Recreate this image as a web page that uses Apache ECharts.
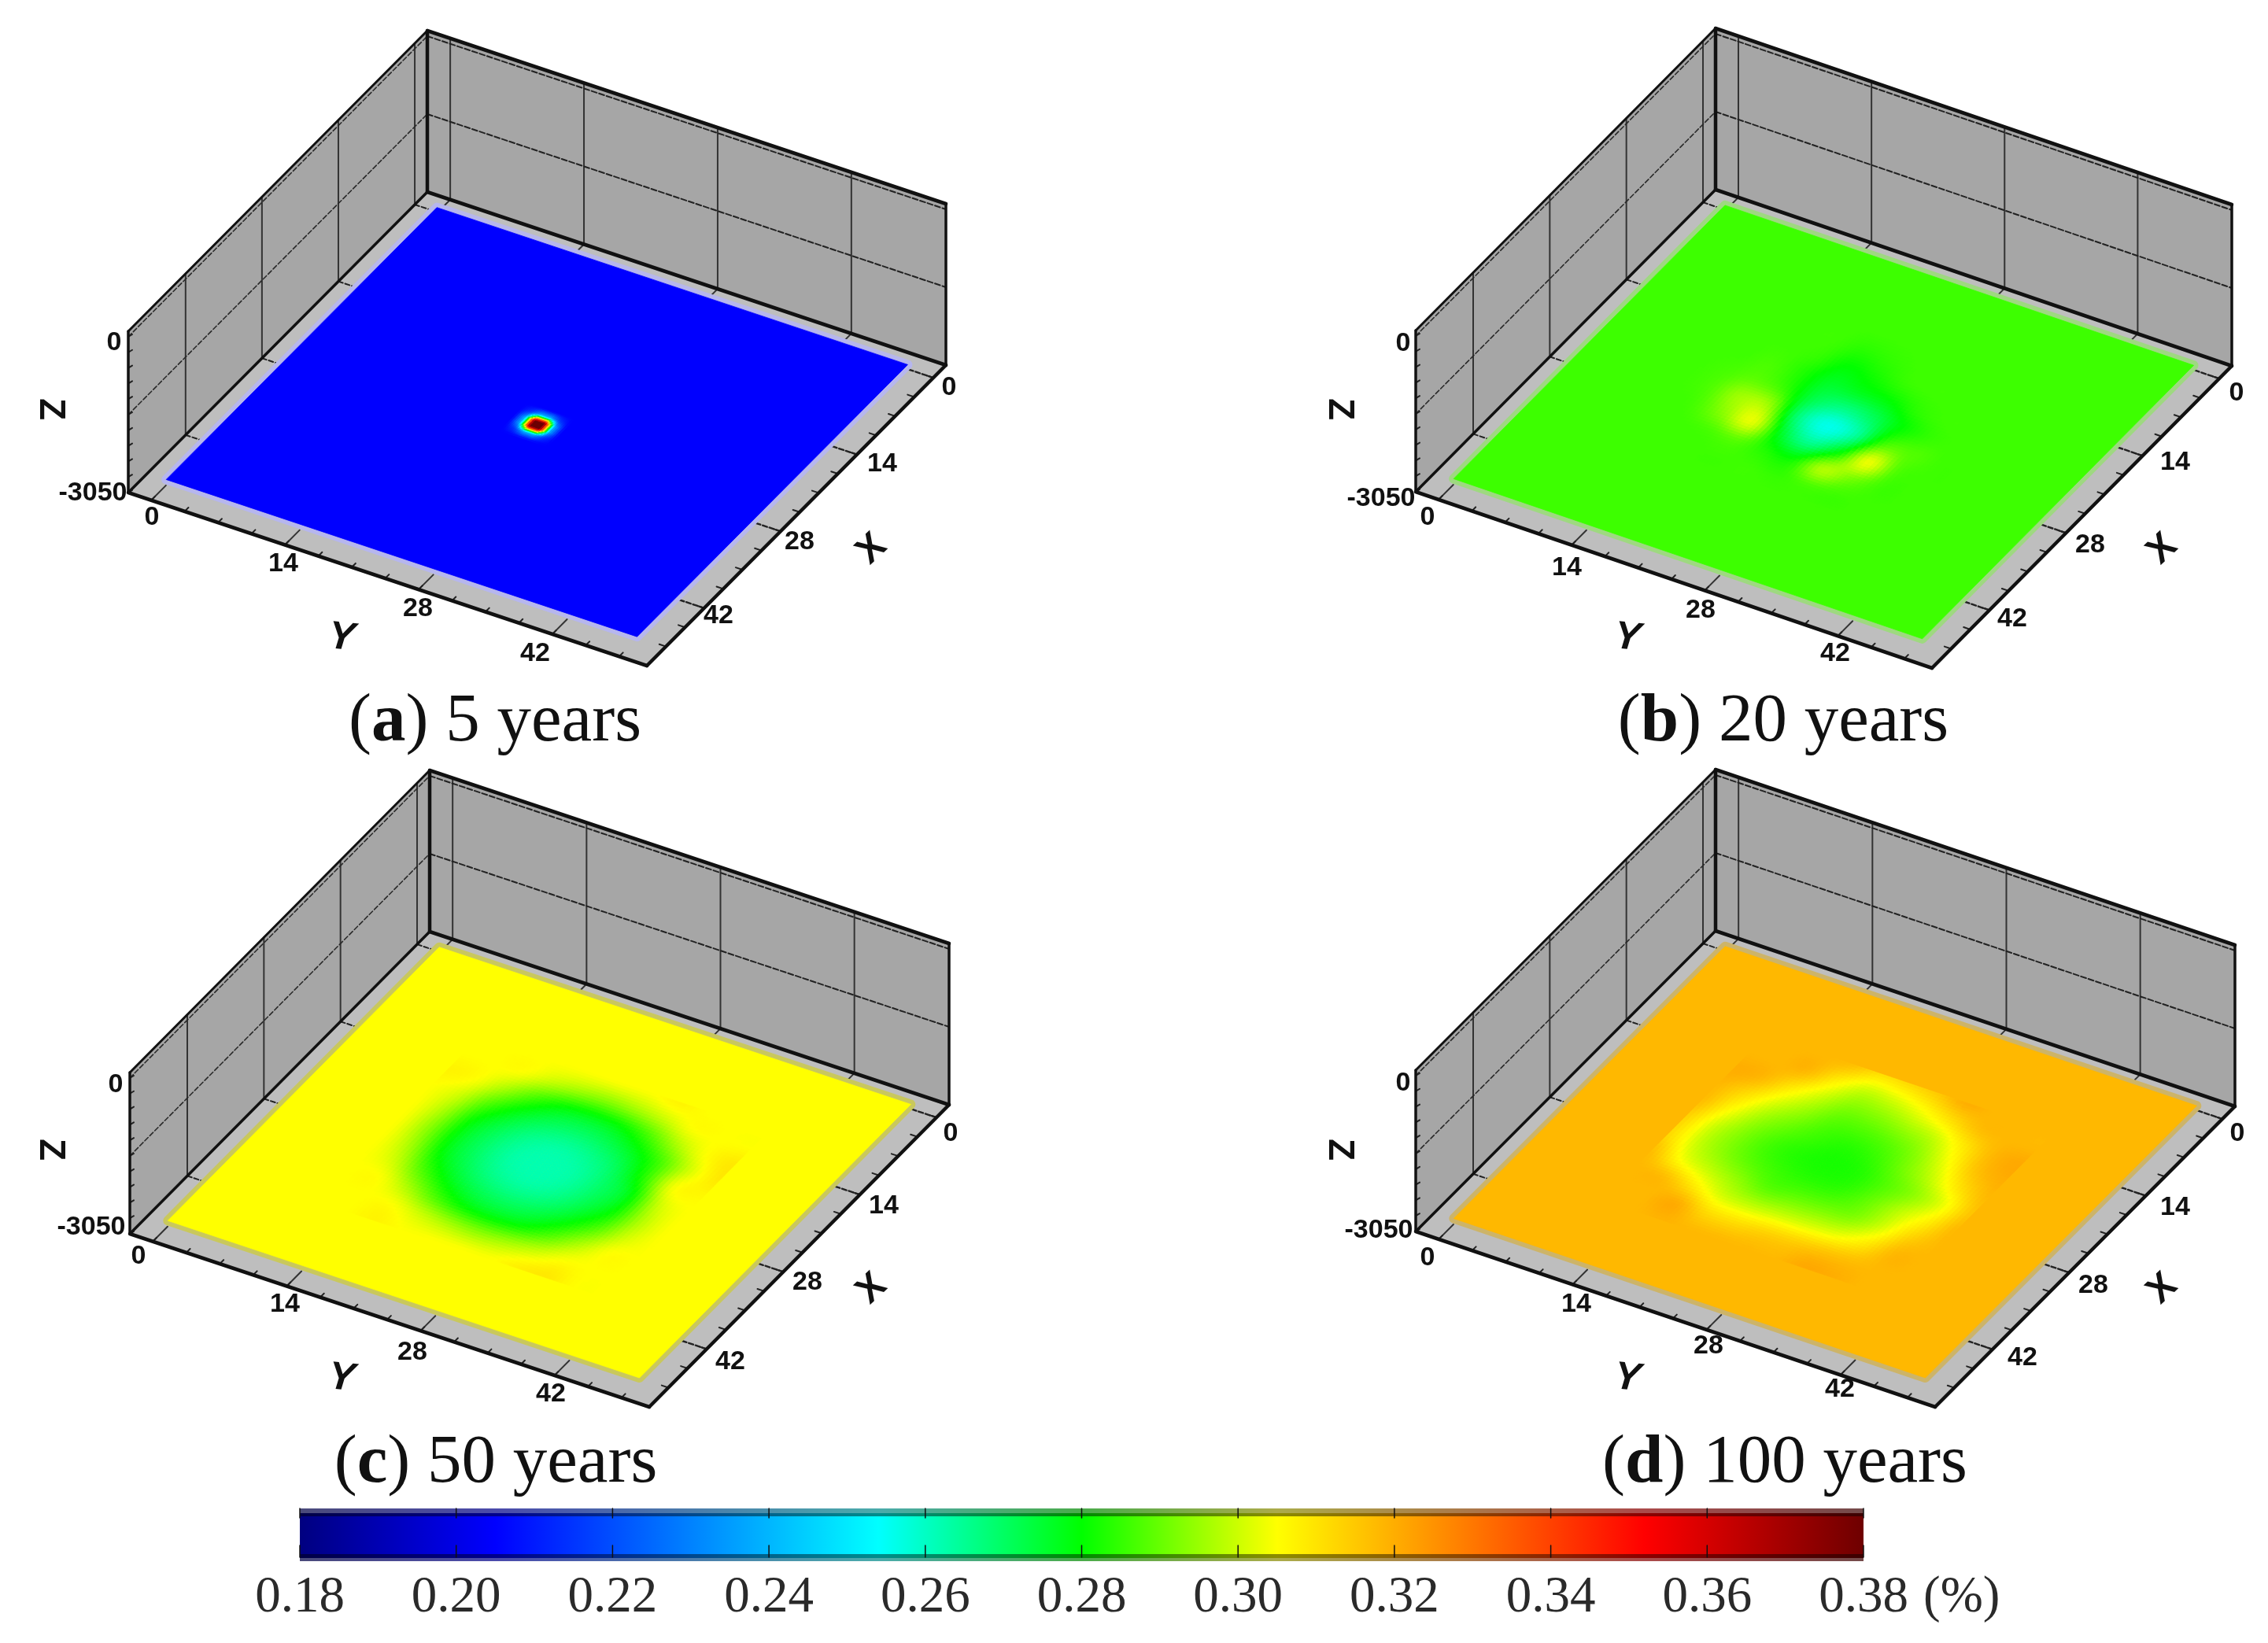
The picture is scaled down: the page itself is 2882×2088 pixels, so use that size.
<!DOCTYPE html>
<html><head><meta charset="utf-8">
<style>html,body{margin:0;padding:0;background:#fff}#c{width:2882px;height:2088px}</style>
<script src="https://cdn.jsdelivr.net/npm/echarts@6/dist/echarts.min.js"></script>
</head><body><div id="c"></div>
<script>
// ---------- data ----------
const xTicks=[0,14,28,42];
const yTicks=[0,14,28,42];
const zTicks=[0,-1525,-3050];
const zLabelled=[0,-3050];
const colorbarTicks=[0.18,0.20,0.22,0.24,0.26,0.28,0.30,0.32,0.34,0.36,0.38];
const colorStops=[[0.18,[0,0,128]],[0.205,[0,0,255]],[0.254,[0,255,255]],[0.28,[0,255,0]],[0.305,[255,255,0]],[0.352,[255,0,0]],[0.38,[110,0,0]]];
const captions=[['a',' 5 years'],['b',' 20 years'],['c',' 50 years'],['d',' 100 years']];

// porosity at a coarse set of nodes; everything outside the nodes sits at the panel's background value
const aBackground=0.205;
const aXNodes=[22.5,23.5,24.5,25.5,26.5,27.5];
const aYNodes=[22.2,23.2,24.2,25.2,26.2,27.2];
const aValues=[
[.205,.205,.205,.205,.205,.205],
[.205,.216,.240,.240,.216,.205],
[.205,.240,.380,.380,.240,.205],
[.205,.240,.380,.380,.240,.205],
[.205,.216,.240,.240,.216,.205],
[.205,.205,.205,.205,.205,.205]];

const centreNodes=[10,13,16,19,22,25,28,31,34,37,40];

const bBackground=0.286;
const bValues=[
[.286,.286,.286,.286,.286,.286,.286,.286,.286,.286,.286],
[.286,.286,.286,.286,.284,.285,.286,.286,.286,.286,.286],
[.286,.286,.286,.285,.280,.282,.285,.286,.286,.286,.286],
[.286,.286,.287,.283,.276,.277,.279,.284,.286,.286,.286],
[.286,.287,.289,.285,.272,.266,.270,.280,.285,.286,.286],
[.286,.288,.296,.295,.268,.256,.264,.287,.288,.286,.286],
[.286,.287,.294,.302,.276,.265,.279,.303,.288,.286,.286],
[.286,.286,.287,.289,.283,.281,.297,.292,.286,.286,.286],
[.286,.286,.286,.286,.286,.285,.287,.286,.286,.286,.286],
[.286,.286,.286,.286,.286,.286,.286,.286,.286,.286,.286],
[.286,.286,.286,.286,.286,.286,.286,.286,.286,.286,.286]];

const cBackground=0.305;
const cValues=[
[.305,.305,.305,.305,.305,.305,.305,.307,.305,.305,.305],
[.305,.305,.305,.300,.296,.294,.296,.300,.305,.305,.305],
[.307,.305,.297,.287,.280,.278,.280,.287,.297,.305,.309],
[.305,.300,.287,.277,.271,.269,.271,.277,.287,.301,.309],
[.305,.296,.280,.271,.265,.263,.265,.271,.284,.304,.306],
[.305,.294,.278,.269,.263,.262,.263,.269,.278,.299,.305],
[.305,.296,.280,.271,.265,.263,.265,.271,.280,.297,.305],
[.305,.300,.287,.277,.271,.269,.271,.277,.287,.300,.305],
[.305,.305,.297,.287,.280,.278,.280,.287,.297,.305,.305],
[.305,.305,.305,.300,.296,.294,.296,.300,.305,.305,.305],
[.305,.305,.307,.305,.305,.305,.305,.308,.309,.305,.305]];

const dBackground=0.318;
const dValues=[
[.318,.318,.318,.317,.311,.312,.315,.320,.318,.318,.318],
[.318,.318,.318,.308,.300,.301,.305,.311,.317,.318,.318],
[.320,.318,.309,.300,.293,.293,.296,.300,.309,.318,.321],
[.318,.311,.301,.294,.288,.287,.289,.294,.304,.316,.320],
[.317,.305,.295,.289,.285,.283,.285,.291,.299,.310,.318],
[.313,.300,.292,.286,.283,.282,.283,.288,.294,.303,.316],
[.312,.300,.293,.288,.285,.284,.285,.290,.298,.307,.318],
[.317,.305,.299,.294,.289,.290,.291,.293,.301,.313,.318],
[.318,.317,.309,.301,.299,.300,.301,.303,.309,.318,.318],
[.318,.318,.320,.312,.311,.313,.314,.316,.317,.318,.318],
[.318,.318,.319,.318,.318,.318,.318,.321,.320,.318,.318]];

// ---------- layout and style ----------
const xRange=[-2.3,52.5], yRange=[-2.4,51.9], zRange=[-3050,107];
const surfaceExtentX=[-0.2,49.4], surfaceExtentY=[-0.2,49.1], surfaceZ=-2990;
const tickFont='bold 34px "Liberation Sans"';
const panels=[
 {B:[543,244], XE:[-380,382],YE:[659,220],H:205,rim:'#b6b6ee',bg:aBackground,xn:aXNodes,yn:aYNodes,vals:aValues,linear:true,step:0.2,capX:629,capY:915,
  xLab:[[1206,493],[1121,590],[1016,689],[913,783]],yLab:[[193,658],[360,717],[531,774],[680,831]],zLab:[[145,436],[118,627]],zName:[64,520],yName:[434,811],xName:[1108,698]},
 {B:[2180,241],XE:[-381,384],YE:[656,224],H:205,rim:'#9ed980',bg:bBackground,xn:centreNodes,yn:centreNodes,vals:bValues,step:0.4,capX:2266,capY:915,
  xLab:[[2842,500],[2764,588],[2656,693],[2557,787]],yLab:[[1814,658],[1991,722],[2161,776],[2332,831]],zLab:[[1783,437],[1755,634]],zName:[1702,520],yName:[2068,811],xName:[2748,698]},
 {B:[546,1184],XE:[-381,384],YE:[660,220],H:205,rim:'#c9c85c',bg:cBackground,xn:centreNodes,yn:centreNodes,vals:cValues,step:0.4,capX:630,capY:1857,
  xLab:[[1208,1441],[1123,1533],[1026,1630],[928,1731]],yLab:[[176,1597],[362,1658],[524,1719],[700,1772]],zLab:[[147,1379],[116,1560]],zName:[64,1461],yName:[434,1752],xName:[1108,1638]},
 {B:[2180,1183],XE:[-381,382],YE:[660,223],H:205,rim:'#cdb468',bg:dBackground,xn:centreNodes,yn:centreNodes,vals:dValues,step:0.4,capX:2268,capY:1857,
  xLab:[[2843,1441],[2764,1535],[2660,1634],[2570,1726]],yLab:[[1814,1599],[2003,1658],[2171,1711],[2338,1766]],zLab:[[1783,1377],[1752,1564]],zName:[1702,1461],yName:[2068,1752],xName:[2748,1638]}
];
panels.forEach(p=>{
  const xs=[p.B[0],p.B[0]+p.XE[0],p.B[0]+p.YE[0],p.B[0]+p.XE[0]+p.YE[0]];
  const ys=[p.B[1],p.B[1]+p.XE[1],p.B[1]+p.YE[1],p.B[1]+p.XE[1]+p.YE[1]];
  p.grid={left:Math.min(...xs),top:Math.min(...ys),width:Math.max(...xs)-Math.min(...xs),height:Math.max(...ys)-Math.min(...ys),outerBoundsMode:'none'};
});

// ---------- colour scale and field shading ----------
function jet(v){
  if(v<=colorStops[0][0]) return 'rgb('+colorStops[0][1].join(',')+')';
  for(let i=1;i<colorStops.length;i++){
    if(v<=colorStops[i][0]){
      const a=colorStops[i-1],b=colorStops[i],t=(v-a[0])/(b[0]-a[0]);
      return 'rgb('+a[1].map((c,k)=>Math.round(c+(b[1][k]-c)*t)).join(',')+')';
    }
  }
  return 'rgb('+colorStops[colorStops.length-1][1].join(',')+')';
}
function cr(a,b,c,d,t){return 0.5*((2*b)+(c-a)*t+(2*a-5*b+4*c-d)*t*t+(3*b-a-3*c+d)*t*t*t);}
function shade(p,X,Y){
  const dx=p.xn[1]-p.xn[0],dy=p.yn[1]-p.yn[0];
  const fx=(X-p.xn[0])/dx,fy=(Y-p.yn[0])/dy;
  const i=Math.floor(fx),j=Math.floor(fy),t=fx-i,s=fy-j;
  const at=(r,c)=>(r<0||c<0||r>=p.vals.length||c>=p.vals[0].length)?p.bg:p.vals[r][c];
  if(p.linear){
    return (1-t)*((1-s)*at(i,j)+s*at(i,j+1))+t*((1-s)*at(i+1,j)+s*at(i+1,j+1));
  }
  const row=k=>cr(at(k,j-1),at(k,j),at(k,j+1),at(k,j+2),s);
  return cr(row(i-1),row(i),row(i+1),row(i+2),t);
}
function surfaceCells(p){
  const cells=[[surfaceExtentX[0],surfaceExtentY[0],surfaceExtentX[1],surfaceExtentY[1],p.bg]];
  const x0=p.xn[0],x1=p.xn[p.xn.length-1],y0=p.yn[0],y1=p.yn[p.yn.length-1];
  for(let X=x0;X<x1-1e-6;X+=p.step){
    for(let Y=y0;Y<y1-1e-6;Y+=p.step){
      const v=shade(p,X+p.step/2,Y+p.step/2);
      if(Math.abs(v-p.bg)>0.00015) cells.push([X,Y,X+p.step,Y+p.step,v]);
    }
  }
  return cells;
}
function projector(p,api){
  return function(X,Y,z){
    const c=api.coord([X,Y]);
    const u=(c[0]-p.grid.left)/p.grid.width,v=(c[1]-p.grid.top)/p.grid.height;
    const h=(z-zRange[0])/(zRange[1]-zRange[0])*p.H;
    return [p.B[0]+u*p.XE[0]+v*p.YE[0],p.B[1]+u*p.XE[1]+v*p.YE[1]-h];
  };
}
const line=(a,b,w,col,dash)=>({type:'line',shape:{x1:a[0],y1:a[1],x2:b[0],y2:b[1]},style:{stroke:col||'#111',lineWidth:w,lineDash:dash||null,lineCap:'round'}});
const poly=(pts,fill)=>({type:'polygon',shape:{points:pts},style:{fill}});
const label=(t,pos,font,rot)=>({type:'text',x:pos[0],y:pos[1],rotation:rot||0,style:{text:t,x:0,y:0,fill:'#111',font,align:'center',verticalAlign:'middle'}});

function frameItem(p,params,api){
  const P=projector(p,api),[x0,x1]=xRange,[y0,y1]=yRange,[zb,zt]=zRange,out=[];
  out.push(poly([P(x0,y0,zb),P(x1,y0,zb),P(x1,y0,zt),P(x0,y0,zt)],'#a6a6a6'));
  out.push(poly([P(x0,y0,zb),P(x0,y1,zb),P(x0,y1,zt),P(x0,y0,zt)],'#a6a6a6'));
  out.push(poly([P(x0,y0,zb),P(x1,y0,zb),P(x1,y1,zb),P(x0,y1,zb)],'#bebebe'));
  xTicks.forEach(t=>out.push(line(P(t,y0,zb),P(t,y0,zt),2,'#333')));
  yTicks.forEach(t=>out.push(line(P(x0,t,zb),P(x0,t,zt),2,'#333')));
  zTicks.slice(0,2).forEach(z=>{
    out.push(line(P(x1,y0,z),P(x0,y0,z),1.6,'#2a2a2a',[6,3]));
    out.push(line(P(x0,y0,z),P(x0,y1,z),2,'#222',[7,3]));
  });
  xTicks.forEach(t=>{
    out.push(line(P(t,y0,zb),P(t,y0+2.7,zb),2,'#222',[6,3]));
    out.push(line(P(t,y1,zb),P(t,y1-2.7,zb),2.4,'#222',[6,3]));
  });
  yTicks.forEach(t=>{
    out.push(line(P(x0,t,zb),P(x0+2.7,t,zb),2,'#333'));
    out.push(line(P(x1,t,zb),P(x1-2.7,t,zb),2,'#333'));
  });
  for(let m=0;m<=49;m+=3.5){
    out.push(line(P(x1,m,zb),P(x1-0.7,m,zb),2,'#222'));
    out.push(line(P(m,y1,zb),P(m,y1-0.7,zb),2,'#222'));
  }
  for(let z=0;z>=zRange[0];z-=305){
    const a=P(x1,y0,z);
    out.push(line(a,[a[0]+5,a[1]-3],2,'#222'));
  }
  out.push(line(P(x0,y0,zb),P(x0,y0,zt),4.5,'#111'));
  out.push(line(P(x1,y0,zb),P(x1,y0,zt),3.5,'#111'));
  out.push(line(P(x0,y1,zb),P(x0,y1,zt),3.5,'#111'));
  out.push(line(P(x0,y0,zt),P(x1,y0,zt),3,'#111'));
  out.push(line(P(x0,y0,zt),P(x0,y1,zt),4.5,'#111'));
  out.push(line(P(x0,y0,zb),P(x1,y0,zb),3.5,'#111'));
  out.push(line(P(x0,y0,zb),P(x0,y1,zb),4.5,'#111'));
  out.push(line(P(x1,y0,zb),P(x1,y1,zb),4.5,'#111'));
  out.push(line(P(x0,y1,zb),P(x1,y1,zb),4.5,'#111'));
  const [sx0,sx1]=surfaceExtentX,[sy0,sy1]=surfaceExtentY;
  out.push({type:'polygon',shape:{points:[P(sx0,sy0,surfaceZ),P(sx1,sy0,surfaceZ),P(sx1,sy1,surfaceZ),P(sx0,sy1,surfaceZ)]},style:{fill:p.rim,stroke:p.rim,lineWidth:12,lineJoin:'round'}});
  xTicks.forEach((t,i)=>out.push(label(String(t),p.xLab[i],tickFont)));
  yTicks.forEach((t,i)=>out.push(label(String(t),p.yLab[i],tickFont)));
  zLabelled.forEach((t,i)=>out.push(label(String(t),p.zLab[i],tickFont)));
  out.push(label('Z',p.zName,'bold 46px "Liberation Sans"',-Math.PI/2));
  out.push(label('Y',p.yName,'italic bold 50px "Liberation Sans"',-0.1));
  out.push(label('X',p.xName,'bold 48px "Liberation Sans"',0.75));
  return {type:'group',children:out};
}
function cellItem(p,params,api){
  const P=projector(p,api);
  const X0=api.value(0),Y0=api.value(1),X1=api.value(2),Y1=api.value(3),c=jet(api.value(4));
  return {type:'polygon',shape:{points:[P(X0,Y0,surfaceZ),P(X1,Y0,surfaceZ),P(X1,Y1,surfaceZ),P(X0,Y1,surfaceZ)]},
    style:{fill:c,stroke:c,lineWidth:0.8}};
}
function colorbarItem(params,api){
  const a=api.coord([colorbarTicks[0],1]),b=api.coord([colorbarTicks[colorbarTicks.length-1],0]);
  const lo=colorStops[0][0],hi=colorStops[colorStops.length-1][0];
  const grad=new echarts.graphic.LinearGradient(0,0,1,0,colorStops.map(s=>({offset:(s[0]-lo)/(hi-lo),color:'rgb('+s[1].join(',')+')'})));
  const w=b[0]-a[0],rect=(y,h,fill,op)=>({type:'rect',shape:{x:a[0],y,width:w,height:h},style:{fill,opacity:op}});
  const out=[rect(a[1],b[1]-a[1],grad,1),
    rect(a[1],6,'#777',0.62),rect(a[1]+6,4,'#000',0.45),
    rect(b[1]-9,5,'#000',0.45),rect(b[1]-4,4,'#777',0.62)];
  colorbarTicks.forEach(t=>{
    const x=api.coord([t,0])[0];
    out.push(line([x,a[1]],[x,a[1]+12],1.5,'#111'));
    out.push(line([x,b[1]-20],[x,b[1]-5],1.5,'#111'));
  });
  return {type:'group',children:out};
}

// ---------- option ----------
const grids=panels.map(p=>p.grid).concat([{left:381,top:1917,width:1987,height:67,outerBoundsMode:'none'}]);
const xAxes=panels.map((p,i)=>({gridIndex:i,type:'value',min:xRange[0],max:xRange[1],show:false}));
const yAxes=panels.map((p,i)=>({gridIndex:i,type:'value',min:yRange[0],max:yRange[1],inverse:true,show:false}));
xAxes.push({gridIndex:4,type:'value',min:0.18,max:0.38,interval:0.02,
  axisLine:{show:false},axisTick:{show:false},splitLine:{show:false},
  axisLabel:{margin:14,formatter:v=>v.toFixed(2),fontFamily:'Liberation Serif',fontSize:65,color:'#2a2a2a',hideOverlap:false,showMinLabel:true,showMaxLabel:true},
  name:'(%)',nameLocation:'end',nameGap:76,nameTextStyle:{fontFamily:'Liberation Serif',fontSize:65,color:'#2a2a2a',verticalAlign:'top',padding:[14,0,0,0]}});
yAxes.push({gridIndex:4,type:'value',min:0,max:1,show:false});

const series=[];
panels.forEach((p,i)=>{
  series.push({type:'custom',coordinateSystem:'cartesian2d',xAxisIndex:i,yAxisIndex:i,clip:false,silent:true,animation:false,z:2,
    data:[[0,0]],encode:{x:0,y:1},renderItem:(a,b)=>frameItem(p,a,b)});
  series.push({type:'custom',coordinateSystem:'cartesian2d',xAxisIndex:i,yAxisIndex:i,clip:false,silent:true,animation:false,z:3,progressive:0,
    data:surfaceCells(p),dimensions:['X0','Y0','X1','Y1','v'],encode:{x:0,y:1},renderItem:(a,b)=>cellItem(p,a,b)});
});
series.push({type:'custom',coordinateSystem:'cartesian2d',xAxisIndex:4,yAxisIndex:4,clip:false,silent:true,animation:false,z:2,
  data:[[0.18,0]],encode:{x:0,y:1},renderItem:colorbarItem});

const titles=captions.map((c,i)=>({
  text:'{n|(}{b|'+c[0]+'}{n|)'+c[1]+'}',left:panels[i].capX,top:panels[i].capY-40,textAlign:'center',padding:0,
  textStyle:{fontWeight:'normal',rich:{n:{fontFamily:'Liberation Serif',fontSize:87,fontWeight:'normal',color:'#111'},b:{fontFamily:'Liberation Serif',fontSize:87,fontWeight:'bold',color:'#111'}}}
}));

const chart=echarts.init(document.getElementById('c'),null,{renderer:'canvas',width:2882,height:2088});
chart.setOption({backgroundColor:'#fff',animation:false,title:titles,grid:grids,xAxis:xAxes,yAxis:yAxes,series});
</script></body></html>
